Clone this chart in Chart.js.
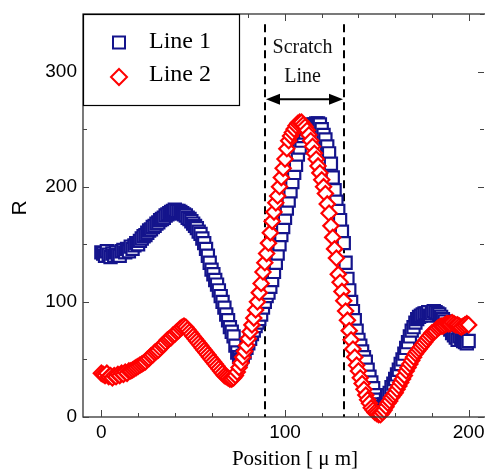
<!DOCTYPE html>
<html><head><meta charset="utf-8">
<script src="https://cdn.jsdelivr.net/npm/chart.js@4/dist/chart.umd.min.js"></script>
<style>html,body{margin:0;padding:0;overflow:hidden;background:#fff}</style>
</head><body>
<canvas id="c" width="489" height="469"></canvas>
<script>
const positions = [0,1,2,3,4,5,6,7,8,9,10,11,12,13,14,15,16,17,18,19,20,21,22,23,24,25,26,27,28,29,30,31,32,33,34,35,36,37,38,39,40,41,42,43,44,45,46,47,48,49,50,51,52,53,54,55,56,57,58,59,60,61,62,63,64,65,66,67,68,69,70,71,72,73,74,75,76,77,78,79,80,81,82,83,84,85,86,87,88,89,90,91,92,93,94,95,96,97,98,99,100,101,102,103,104,105,106,107,108,109,110,111,112,113,114,115,116,117,118,119,120,121,122,123,124,125,126,127,128,129,130,131,132,133,134,135,136,137,138,139,140,141,142,143,144,145,146,147,148,149,150,151,152,153,154,155,156,157,158,159,160,161,162,163,164,165,166,167,168,169,170,171,172,173,174,175,176,177,178,179,180,181,182,183,184,185,186,187,188,189,190,191,192,193,194,195,196,197,198,199,200];
const line1Values = [143,142,140,144,141,139,142,140,143,141,140,144,145,143,146,144,148,146,149,151,150,153,155,157,158,160,162,163,165,166,168,169,171,172,173,175,176,177,178,179,180,179,179,178,177,176,175,173,172,170,168,166,164,161,159,155,151,146,140,134,128,124,119,115,110,105,100,95,89,84,78,74,70,62,56,52,50,53,56,60,64,68,72,75,79,82,85,89,95,100,105,108,113,119,126,134,142,150,158,165,173,181,188,196,204,212,219,228,234,240,244,247,250,252,253,254,254,255,255,254,250,245,241,235,229,220,208,197,187,179,171,161,151,134,120,110,100,92,84,75,67,62,57,52,48,41,35,30,25,19,15,11,9,8,11,15,19,21,26,29,33,37,41,46,50,55,60,65,70,75,78,82,85,87,88,89,90,90,91,88,90,92,91,90,89,87,85,83,80,78,76,73,71,69,67,70,68,66,65,64,66];
const line2Values = [38,37,36,38,35,36,34,36,35,37,36,38,37,39,38,40,40,41,42,43,44,45,46,47,48,50,51,53,54,56,57,58,60,62,63,65,67,68,69,71,72,74,75,77,78,79,78,76,74,72,70,68,66,64,62,60,58,56,54,52,50,48,46,44,42,40,38,36,35,34,33,33,34,36,39,43,47,52,57,62,68,74,80,86,93,100,108,116,126,134,142,151,160,170,178,186,192,200,208,216,224,233,240,244,247,250,253,255,256,256,254,252,249,245,240,235,229,224,218,212,206,200,194,185,177,166,156,146,138,124,117,109,101,92,84,75,67,59,52,45,40,34,29,24,19,15,12,8,6,4,3,2,2,4,6,9,12,14,17,19,21,24,27,30,33,36,40,43,46,49,52,55,57,59,61,63,65,67,69,71,73,74,75,77,78,79,79,80,81,81,81,82,81,80,80,79,78,79,80,81,80];
const seriesNames = ['Line 1','Line 2'];
const xTickValues = [0,100,200];
const yTickValues = [0,100,200,300];
const xMinorTicks = [0,20,40,60,80,100,120,140,160,180,200];
const yMinorTicks = [0,50,100,150,200,250,300,350];
const scratchBounds = [89,132];
const scratchArrowLevel = 276;
const scratchDashTop = 341;
const scratchLabel = ['Scratch','Line'];
const xTitle = 'Position [ \u03bc m]';
const yTitle = 'R';

const BLUE = '#14148c', RED = '#ff0000';
const SANS = 'Arial, "Liberation Sans", sans-serif';
const SERIF = '"Times New Roman", "Liberation Serif", serif';

const toPts = vals => positions.map((p,i)=>({x:p,y:vals[i]}));

const overlay = {
  id:'overlay',
  beforeDatasetsDraw(chart){
    const {ctx, chartArea:a, scales:{x,y}} = chart;
    ctx.save();
    ctx.strokeStyle='#000'; ctx.lineWidth=2; ctx.setLineDash([8,5]);
    scratchBounds.forEach(v=>{
      const px = Math.round(x.getPixelForValue(v));
      ctx.beginPath(); ctx.moveTo(px, y.getPixelForValue(scratchDashTop)); ctx.lineTo(px, a.bottom); ctx.stroke();
    });
    ctx.setLineDash([]);
    const x1 = Math.round(x.getPixelForValue(scratchBounds[0])), x2 = Math.round(x.getPixelForValue(scratchBounds[1]));
    const ay = y.getPixelForValue(scratchArrowLevel);
    ctx.lineWidth=2;
    ctx.beginPath(); ctx.moveTo(x1+10, ay); ctx.lineTo(x2-10, ay); ctx.stroke();
    ctx.fillStyle='#000';
    ctx.beginPath(); ctx.moveTo(x1+1, ay); ctx.lineTo(x1+15, ay-5.5); ctx.lineTo(x1+15, ay+5.5); ctx.closePath(); ctx.fill();
    ctx.beginPath(); ctx.moveTo(x2-1, ay); ctx.lineTo(x2-15, ay-5.5); ctx.lineTo(x2-15, ay+5.5); ctx.closePath(); ctx.fill();
    ctx.font = '20px ' + SERIF; ctx.textAlign='center'; ctx.textBaseline='middle'; ctx.fillStyle='#111';
    const cx = (x1+x2)/2 - 2;
    ctx.fillText(scratchLabel[0], cx, 48);
    ctx.fillText(scratchLabel[1], cx, 77);
    ctx.restore();
  },
  afterDatasetsDraw(chart){
    const {ctx, chartArea:a, scales:{x,y}} = chart;
    ctx.save();
    ctx.strokeStyle='#333'; ctx.lineWidth=1.3;
    ctx.strokeRect(a.left, a.top, a.right-a.left, a.bottom-a.top);
    ctx.strokeStyle='#444'; ctx.lineWidth=1;
    xMinorTicks.forEach(v=>{
      const px = Math.round(x.getPixelForValue(v))+0.5;
      const len = xTickValues.includes(v) ? 7 : 4;
      ctx.beginPath(); ctx.moveTo(px,a.bottom); ctx.lineTo(px,a.bottom-len); ctx.moveTo(px,a.top); ctx.lineTo(px,a.top+len); ctx.stroke();
    });
    yMinorTicks.forEach(v=>{
      const py = Math.round(y.getPixelForValue(v))+0.5;
      const len = yTickValues.includes(v) ? 6 : 4;
      ctx.beginPath(); ctx.moveTo(a.left,py); ctx.lineTo(a.left+len,py); ctx.moveTo(a.right-3,py); ctx.lineTo(a.right-3-len,py); ctx.stroke();
    });
    ctx.fillStyle='#fff'; ctx.fillRect(a.left, a.top, 156, 91);
    ctx.strokeStyle='#000'; ctx.lineWidth=1.2;
    ctx.strokeRect(a.left+0.5, a.top+0.5, 156, 91);
    ctx.lineWidth=2;
    ctx.strokeStyle=BLUE; ctx.strokeRect(113, 36.5, 12, 12);
    ctx.strokeStyle=RED; ctx.beginPath(); ctx.moveTo(119,69); ctx.lineTo(127,77); ctx.lineTo(119,85); ctx.lineTo(111,77); ctx.closePath(); ctx.stroke();
    ctx.fillStyle='#000'; ctx.font='24px '+SERIF; ctx.textAlign='left'; ctx.textBaseline='middle';
    ctx.fillText(seriesNames[0], 149, 42);
    ctx.fillText(seriesNames[1], 149, 75);
    ctx.font='21px '+SERIF; ctx.textAlign='center';
    ctx.fillText(xTitle, 295, 459);
    ctx.save(); ctx.translate(20, 208); ctx.rotate(-Math.PI/2);
    ctx.font='21px '+SANS; ctx.fillText(yTitle, 0, 0); ctx.restore();
    ctx.restore();
  }
};

new Chart(document.getElementById('c'), {
  type:'scatter',
  data:{ datasets:[
    {label:seriesNames[0], data:toPts(line1Values), pointStyle:'rect', pointRadius:8.6, pointHoverRadius:8.6,
     borderColor:BLUE, backgroundColor:'#fff', pointBorderWidth:2.2, borderWidth:2, order:1, clip:false},
    {label:seriesNames[1], data:toPts(line2Values), pointStyle:'rectRot', pointRadius:7.6, pointHoverRadius:7.6,
     borderColor:RED, backgroundColor:'#fff', pointBorderWidth:2.2, borderWidth:2, order:0, clip:false}
  ]},
  options:{
    responsive:false, animation:false, devicePixelRatio:1,
    layout:{autoPadding:false, padding:{top:14,right:2,left:0,bottom:0}},
    plugins:{legend:{display:false}, tooltip:{enabled:false}},
    events:[],
    scales:{
      x:{type:'linear', min:-10, max:210,
        grid:{display:false, drawTicks:false, tickLength:0}, border:{display:false},
        afterBuildTicks:s=>{s.ticks = xTickValues.map(v=>({value:v}));},
        afterFit:s=>{s.height=52; s.paddingLeft=0; s.paddingRight=0;},
        ticks:{padding:4, color:'#000', font:{size:19, family:SANS}, maxRotation:0, autoSkip:false}},
      y:{type:'linear', min:0, max:350,
        grid:{display:false, drawTicks:false, tickLength:0}, border:{display:false},
        afterBuildTicks:s=>{s.ticks = yTickValues.map(v=>({value:v}));},
        afterFit:s=>{s.width=83; s.paddingTop=0; s.paddingBottom=0;},
        ticks:{padding:6, color:'#000', font:{size:19, family:SANS}}}
    }
  },
  plugins:[overlay]
});
</script>
</body></html>
